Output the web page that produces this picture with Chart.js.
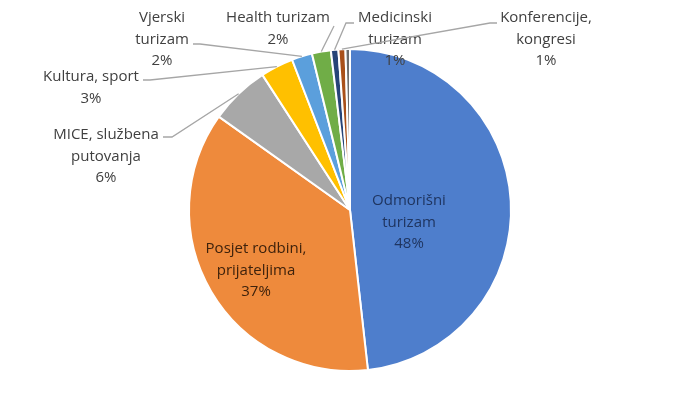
<!DOCTYPE html>
<html><head><meta charset="utf-8">
<script src="https://cdn.jsdelivr.net/npm/chart.js@4/dist/chart.umd.min.js"></script>
<style>html,body{margin:0;padding:0;background:#fff}#wrap{width:700px;height:420px;position:relative}</style>
</head><body><div id="wrap"><canvas id="c"></canvas></div>
<script>
// ---- data ----
const categories = ["Odmorišni turizam","Posjet rodbini, prijateljima","MICE, službena putovanja","Kultura, sport","Vjerski turizam","Health turizam","Medicinski turizam","Konferencije, kongresi","Ostalo"];
const values = [48.2, 36.6, 6.0, 3.3, 2.05, 1.9, 0.75, 0.7, 0.45];
const labelLines = [["Odmorišni","turizam"],["Posjet rodbini,","prijateljima"],["MICE, službena","putovanja"],["Kultura, sport"],["Vjerski","turizam"],["Health turizam"],["Medicinski","turizam"],["Konferencije,","kongresi"],null];

// ---- styles / layout ----
const colors = ["#4E7ECC","#EE8A3C","#A8A8A8","#FFC000","#5B9FDC","#70AD47","#264478","#A9501A","#6E6E6E"];
const labelLayout = [
  {x:409,y:201,color:"#1F3560"},
  {x:256,y:249,color:"#3E220C"},
  {x:106,y:135,color:"#404040",pts:[[163,137],[172,137]]},
  {x:91,y:77,color:"#404040",pts:[[143,80],[150,80]]},
  {x:162,y:18,color:"#404040",pts:[[193,44],[200,44]]},
  {x:278,y:18,color:"#404040",pts:[[334,26]]},
  {x:395,y:18,color:"#404040",pts:[[354,23],[346,23]]},
  {x:546,y:18,color:"#404040",pts:[[497,23],[490,23]]},
  null
];
const FONT = '15px "Open Sans", Lato, sans-serif';
const LINE_H = 21.5;

const labelPlugin = {
  id:'labels',
  afterDatasetsDraw(chart){
    const ctx = chart.ctx;
    const meta = chart.getDatasetMeta(0);
    const total = values.reduce((a,b)=>a+b,0);
    ctx.save();
    meta.data.forEach((arc,i)=>{
      const L = labelLayout[i];
      if(!L || !labelLines[i]) return;
      const p = arc.getProps(['x','y','startAngle','endAngle','outerRadius'],true);
      const mid = (p.startAngle+p.endAngle)/2;
      if(L.pts){
        const ex = p.x + Math.cos(mid)*p.outerRadius;
        const ey = p.y + Math.sin(mid)*p.outerRadius;
        ctx.strokeStyle = "#A6A6A6";
        ctx.lineWidth = 1.3;
        ctx.beginPath();
        ctx.moveTo(L.pts[0][0],L.pts[0][1]);
        for(let k=1;k<L.pts.length;k++) ctx.lineTo(L.pts[k][0],L.pts[k][1]);
        ctx.lineTo(ex,ey);
        ctx.stroke();
      }
      const pct = Math.round(values[i]/total*100)+"%";
      const lines = labelLines[i].concat([pct]);
      ctx.fillStyle = L.color;
      ctx.font = FONT;
      ctx.textAlign = 'center';
      ctx.textBaseline = 'middle';
      lines.forEach((t,j)=>ctx.fillText(t,L.x,L.y+j*LINE_H));
    });
    ctx.restore();
  }
};

new Chart(document.getElementById('c'),{
  type:'pie',
  data:{labels:categories,datasets:[{data:values,backgroundColor:colors,borderColor:'#ffffff',borderWidth:2}]},
  options:{
    responsive:true,maintainAspectRatio:false,animation:false,
    layout:{padding:{top:48,bottom:48,left:0,right:0}},
    plugins:{legend:{display:false},tooltip:{enabled:false}}
  },
  plugins:[labelPlugin]
});
</script></body></html>
